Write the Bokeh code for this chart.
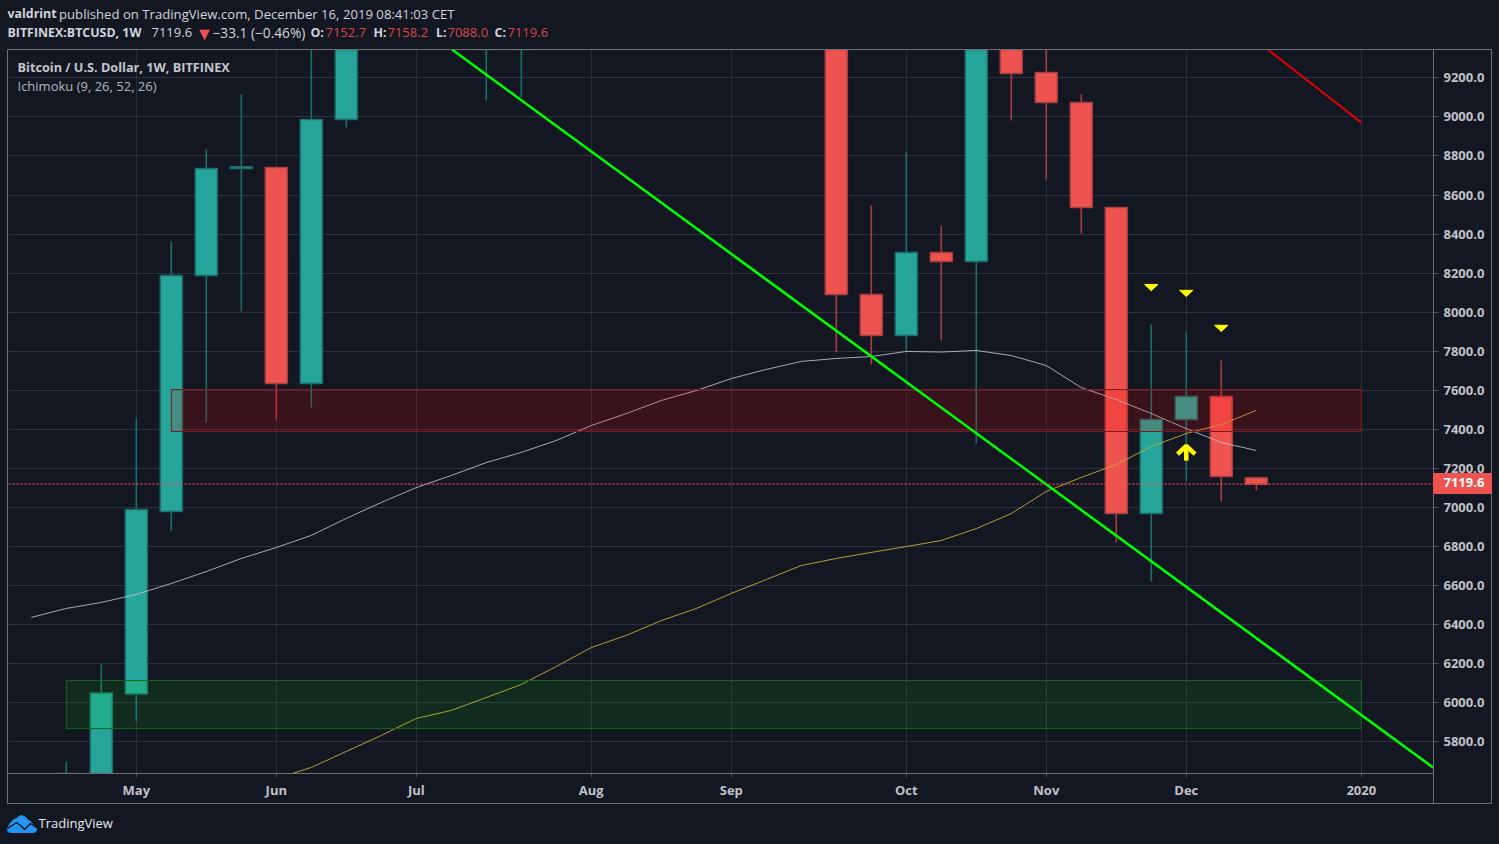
from bokeh.embed import file_html
from bokeh.resources import INLINE
from bokeh.plotting import figure
from bokeh.layouts import column
from bokeh.models import (FixedTicker, Label, Span, ColumnDataSource, Range1d, NumeralTickFormatter)

# ---- data ----
weeks  = [-2, -1, 0, 1, 2, 3, 4, 5, 6, 10, 11, 20, 21, 22, 23, 24, 25, 26, 27, 28, 29, 30, 31, 32]
opens  = [5060, 5280, 6045, 6980, 8188, 8736, 8741, 7635, 8987, 9700, 10000, 10100, 8091, 7881, 8306, 8260, 9500, 9227, 9074, 8536, 6969, 7451, 7568, 7152.7]
closes = [5280, 6050, 6990, 8188, 8736, 8745, 7635, 8987, 10200, 10300, 10400, 8091, 7881, 8306, 8260, 9700, 9222, 9074, 8536, 6969, 7451, 7568, 7159, 7119.6]
highs  = [5700, 6196, 7456, 8362, 8833, 9115, 8741, 9600, 10500, 10500, 10600, 10300, 8546, 8823, 8444, 9900, 9600, 9500, 9115, 8536, 7937, 7896, 7753, 7158.2]
lows   = [4900, 5200, 5904, 6880, 7435, 8004, 7450, 7512, 8946, 9084, 9100, 7794, 7732, 7794, 7855, 7328, 8982, 8680, 8403, 6821, 6621, 7133, 7031, 7088.0]

base_weeks = list(range(-3, 33))
base_line = [6437, 6483, 6514, 6555, 6611, 6672, 6739, 6795, 6857, 6944, 7026, 7102, 7164, 7230, 7282, 7343, 7420, 7481,
             7548, 7599, 7660, 7707, 7748, 7763, 7773, 7799, 7796, 7804, 7778, 7727, 7614, 7553, 7481, 7404, 7333, 7292]
conv_weeks = list(range(4, 33))
conv_line = [5612, 5669, 5751, 5833, 5920, 5961, 6027, 6094, 6186, 6283, 6345, 6421, 6483, 6560, 6631, 6703, 6739, 6770,
             6800, 6831, 6892, 6969, 7082, 7154, 7220, 7312, 7379, 7425, 7497]

zone_left = [1, -2]
zone_right = [35, 35]
zone_top = [7604, 6114]
zone_bottom = [7389, 5868]

green_x, green_y = [9.02, 37.05], [9345, 5669]
red_x, red_y = [32.33, 35.0], [9345, 8971]

marker_weeks = [29, 30, 31]
marker_values = [8126, 8096, 7917]
arrow_week, arrow_low, arrow_high = 30, 7240, 7315
last_price = 7119.6

y_ticks = [5800, 6000, 6200, 6400, 6600, 6800, 7000, 7200, 7400, 7600, 7800, 8000, 8200, 8400, 8600, 8800, 9000, 9200]
x_ticks = [0, 4, 8, 13, 17, 22, 26, 30, 35]
x_labels = ["May", "Jun", "Jul", "Aug", "Sep", "Oct", "Nov", "Dec", "2020"]

BG = "#131722"
FONT = "Open Sans"
UP, DOWN = "#26a69a", "#ef5350"
UP_EDGE, DOWN_EDGE = "#1d6e69", "#a63d40"

main = figure(width=1499, height=844, output_backend="svg", toolbar_location=None,
              x_range=Range1d(-3.652, 37.064), y_range=Range1d(5638, 9345),
              y_axis_location="right", min_border_left=8, min_border_right=66,
              min_border_top=49, min_border_bottom=71, frame_align=False,
              background_fill_color=BG, border_fill_color=BG, outline_line_color=None,
              styles={"background-color": BG})

main.xaxis.ticker = FixedTicker(ticks=x_ticks)
main.xaxis.major_label_overrides = dict(zip(x_ticks, x_labels))
main.yaxis.ticker = FixedTicker(ticks=y_ticks)
main.yaxis.formatter = NumeralTickFormatter(format="0.0")
for ax in (main.xaxis[0], main.yaxis[0]):
    ax.axis_line_color = None
    ax.major_tick_line_color = "#50535e"
    ax.major_tick_out = 5
    ax.major_tick_in = 0
    ax.minor_tick_line_color = None
    ax.major_label_text_color = "#c0c2c8"
    ax.major_label_text_font = FONT
    ax.major_label_text_font_size = "13px"
    ax.major_label_standoff = 5
main.xaxis.major_tick_out = 4
main.xaxis.major_label_standoff = 3
main.xaxis.major_label_text_font_style = "bold"
main.yaxis.major_label_text_font_style = "bold"
main.xgrid.ticker = FixedTicker(ticks=x_ticks)
main.ygrid.ticker = FixedTicker(ticks=y_ticks)
main.xgrid.grid_line_color = "#2a2e39"
main.ygrid.grid_line_color = "#2f3341"

up_flags = [c >= o for o, c in zip(opens, closes)]
src = ColumnDataSource(dict(
    x=weeks,
    top=[max(o, c) for o, c in zip(opens, closes)],
    bottom=[min(o, c) for o, c in zip(opens, closes)],
    high=highs, low=lows,
    fill=[UP if u else DOWN for u in up_flags],
    edge=[UP_EDGE if u else DOWN_EDGE for u in up_flags],
))
main.segment("x", "high", "x", "low", source=src, line_color="edge", line_width=1.6)
main.vbar(x="x", top="top", bottom="bottom", width=0.63, source=src, fill_color="fill", line_color="edge", line_width=1.5)

main.line(base_weeks, base_line, line_color="#c4c4c8", line_width=1, line_alpha=0.85)
main.line(conv_weeks, conv_line, line_color="#c9ad3a", line_width=1, line_alpha=0.9)

main.quad(left=zone_left[:1], right=zone_right[:1], top=zone_top[:1], bottom=zone_bottom[:1],
          fill_color="#ff0000", fill_alpha=0.16, line_color="#7d1a1e", line_width=1)
main.quad(left=zone_left[1:], right=zone_right[1:], top=zone_top[1:], bottom=zone_bottom[1:],
          fill_color="#00ff00", fill_alpha=0.085, line_color="#13671f", line_width=1)

main.line(green_x, green_y, line_color="#00ff00", line_width=2.5)
main.line(red_x, red_y, line_color="#e60000", line_width=2)

half_w, depth = 0.19, 32
main.patches([[w - half_w, w + half_w, w] for w in marker_weeks],
             [[v + depth / 2, v + depth / 2, v - depth / 2] for v in marker_values],
             fill_color="#ffff00", line_color="#ffff00", line_width=1)
main.segment([arrow_week], [arrow_low], [arrow_week], [arrow_high], line_color="#ffff00", line_width=4.5)
main.line([arrow_week - 0.25, arrow_week, arrow_week + 0.25],
          [arrow_high - 42, arrow_high, arrow_high - 42], line_color="#ffff00", line_width=4.5)

main.add_layout(Span(location=last_price, dimension="width", line_color=DOWN, line_width=1.2, line_dash=[2, 2]))

# ---- transparent page-sized layer for the chrome around the plot frame ----
top = figure(width=1499, height=844, output_backend="svg", toolbar_location=None,
             x_range=Range1d(0, 1499), y_range=Range1d(844, 0),
             x_axis_type=None, y_axis_type=None, min_border=0, frame_align=False,
             background_fill_color=None, border_fill_color=None, outline_line_color=None,
             styles={"position": "absolute", "left": "0", "top": "0"})
top.grid.visible = False

FRAME = "#6f7177"
top.multi_line([[7, 1491, 1491, 7, 7], [1433, 1433], [7, 1433]],
               [[49, 49, 803, 803, 49], [49, 803], [773, 773]], line_color=FRAME, line_width=1)
top.quad(left=[1433], right=[1491], top=[473], bottom=[493], fill_color=DOWN, line_color=DOWN)


def text(x, y, s, color="#d1d4dc", style="normal", size="13px", **kw):
    top.add_layout(Label(x=x, y=y, text=s, text_color=color, text_font=FONT, text_font_style=style,
                         text_font_size=size, text_baseline="middle", **kw))


RED = "#d9474a"
text(7, 13, "valdrint", style="bold", size="12.4px")
text(58.5, 13, "published on TradingView.com, December 16, 2019 08:41:03 CET", size="13.15px")
text(7, 32, "BITFINEX:BTCUSD, 1W", style="bold", size="12.4px")
text(151, 32, "7119.6")
text(195, 32, "▼", color=DOWN, size="18px")
text(212, 32, "−33.1 (−0.46%)", size="13.7px")
text(310, 32, "O:", style="bold", size="12.4px")
text(325, 32, "7152.7", color=RED)
text(373, 32, "H:", style="bold", size="12.4px")
text(387, 32, "7158.2", color=RED)
text(435.5, 32, "L:", style="bold", size="12.4px")
text(447, 32, "7088.0", color=RED)
text(494, 32, "C:", style="bold", size="12.4px")
text(507, 32, "7119.6", color=RED)
text(17, 66, "Bitcoin / U.S. Dollar, 1W, BITFINEX", style="bold", color="#c4c6cc", size="12.7px")
text(17, 85.5, "Ichimoku (9, 26, 52, 26)", color="#b2b5be")
text(1443, 482, "7119.6", color="#ffffff", style="bold")
text(38, 822, "TradingView", color="#e6e7ea")

LOGO = "#2196f3"
top.patches([[7, 9, 12.7, 16, 20, 24, 27, 30, 33, 36, 35.5, 33, 10, 7.5]],
            [[828, 824, 819.5, 818, 815, 816, 819, 821, 825, 828, 831, 832, 832, 831]],
            fill_color=LOGO, line_color=LOGO, line_width=1)
top.line([7, 16, 20, 24, 30, 36], [828, 822, 825, 829, 823, 827], line_color=BG, line_width=1.5)

p = column(main, top, styles={"position": "relative"})

open("out.html", "w").write(file_html(p, INLINE))
